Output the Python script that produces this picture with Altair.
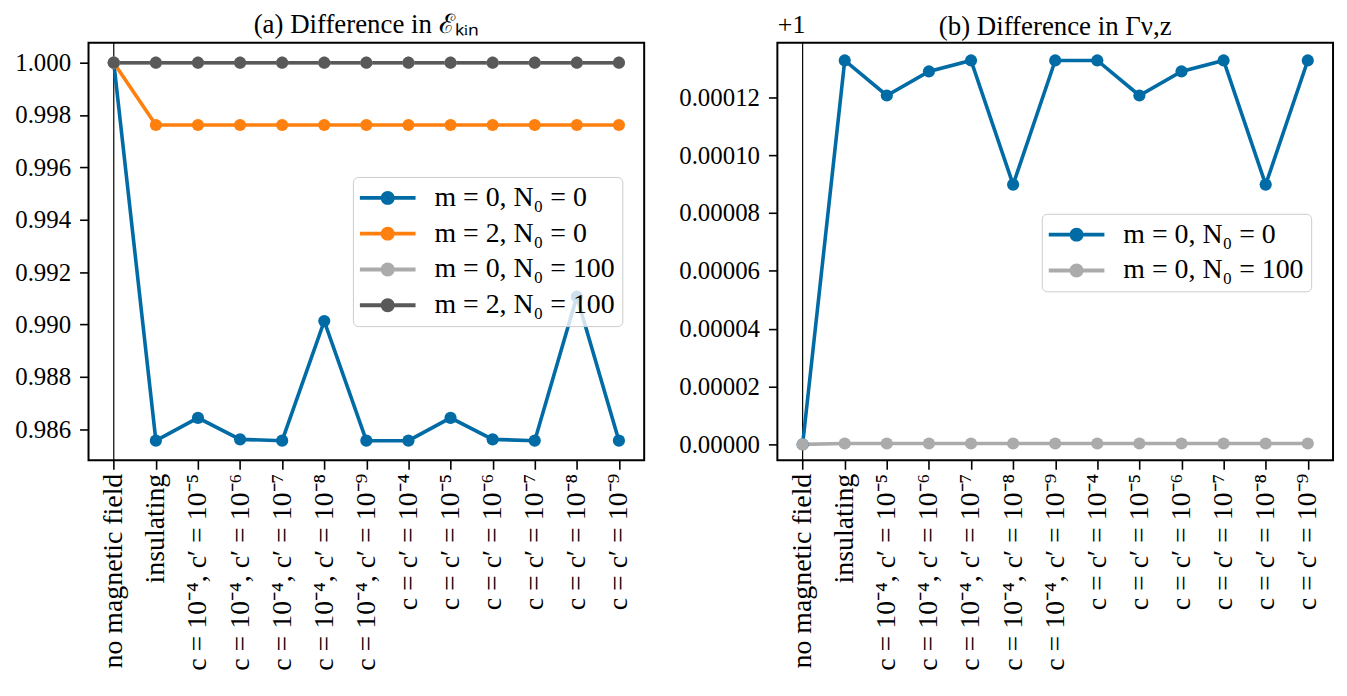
import altair as alt
import pandas as pd

categories = [
    "no magnetic field", "insulating",
    "c = 10⁻⁴, c′ = 10⁻⁵", "c = 10⁻⁴, c′ = 10⁻⁶", "c = 10⁻⁴, c′ = 10⁻⁷",
    "c = 10⁻⁴, c′ = 10⁻⁸", "c = 10⁻⁴, c′ = 10⁻⁹",
    "c = c′ = 10⁻⁴", "c = c′ = 10⁻⁵", "c = c′ = 10⁻⁶", "c = c′ = 10⁻⁷",
    "c = c′ = 10⁻⁸", "c = c′ = 10⁻⁹",
]

series_a = ["m = 0, N₀ = 0", "m = 2, N₀ = 0", "m = 0, N₀ = 100", "m = 2, N₀ = 100"]
colors_a = ["#006BA4", "#FF800E", "#ABABAB", "#595959"]

ekin_m0_n0 = [1.0, 0.98556, 0.98643, 0.98561, 0.98556, 0.99013, 0.98556,
              0.98556, 0.98643, 0.98561, 0.98556, 0.99106, 0.98556]
ekin_m2_n0 = [1.0] + [0.99762] * 12
ekin_m0_n100 = [1.0] * 13
ekin_m2_n100 = [1.0] * 13

series_b = ["m = 0, N₀ = 0", "m = 0, N₀ = 100"]
colors_b = ["#006BA4", "#ABABAB"]

gamma_m0_n0 = [0.0, 0.0001327, 0.0001206, 0.0001289, 0.0001327, 0.0000898, 0.0001327,
               0.0001327, 0.0001206, 0.0001289, 0.0001327, 0.0000898, 0.0001327]
gamma_m0_n100 = [0.0] + [0.0000003] * 12

FONT = "Liberation Serif"

rows_a = []
for name, vals in zip(series_a, [ekin_m0_n0, ekin_m2_n0, ekin_m0_n100, ekin_m2_n100]):
    for i, (c, v) in enumerate(zip(categories, vals)):
        rows_a.append({"case": c, "value": v, "series": name, "idx": i})
df_a = pd.DataFrame(rows_a)

rows_b = []
for name, vals in zip(series_b, [gamma_m0_n0, gamma_m0_n100]):
    for i, (c, v) in enumerate(zip(categories, vals)):
        rows_b.append({"case": c, "value": v, "series": name, "idx": i})
df_b = pd.DataFrame(rows_b)

# line with a dot, drawn to the right of the nominal symbol centre
legend_symbol = ("M-1,-0.14L3,-0.14L3,0.14L-1,0.14Z "
                 "M0.5,0A0.5,0.5 0 1,1 1.5,0A0.5,0.5 0 1,1 0.5,0Z")

xenc = alt.X("case:N", sort=categories,
             scale=alt.Scale(type="point", padding=0.6),
             axis=alt.Axis(title=None, labelAngle=270, labelFontSize=28, labelPadding=4,
                           labelLimit=500))


def panel(df, series, colors, domain, ticks, fmt, title, lx, ly, title_offset, offset_title=None):
    if offset_title:
        yaxis = alt.Axis(values=ticks, format=fmt, title=offset_title, titleAngle=0,
                         titleX=0, titleY=-5, titleAlign="left", titleBaseline="bottom",
                         labelPadding=9)
    else:
        yaxis = alt.Axis(values=ticks, format=fmt, title=None, labelPadding=9)
    yenc = alt.Y("value:Q", scale=alt.Scale(domain=domain, nice=False, zero=False),
                 axis=yaxis)
    cscale = alt.Scale(domain=series, range=colors)
    leg = alt.Legend(title=None, orient="none", legendX=lx, legendY=ly,
                     symbolType=legend_symbol, symbolSize=784,
                     symbolStrokeWidth=0, symbolOpacity=1,
                     labelOffset=47, rowPadding=8, labelLimit=500,
                     fillColor="rgba(255,255,255,0.8)", strokeColor="#cccccc",
                     padding=7)
    cenc = alt.Color("series:N", scale=cscale, sort=series, legend=leg)
    base = alt.Chart(df)
    lines = base.mark_line(strokeWidth=3.6).encode(
        x=xenc, y=yenc, color=cenc, order="idx:Q",
    )
    pts = base.mark_circle(size=150, opacity=1).encode(
        x=xenc, y=yenc, color=cenc,
    )
    vline = alt.Chart(pd.DataFrame({"case": [categories[0]]})).mark_rule(
        color="black", strokeWidth=1.2).encode(x=alt.X("case:N", sort=categories))
    return alt.layer(vline, lines, pts).properties(
        width=559, height=420,
        title=alt.TitleParams(title, offset=title_offset),
    )


left = panel(df_a, series_a, colors_a, [0.98481, 1.00076],
             [0.986, 0.988, 0.990, 0.992, 0.994, 0.996, 0.998, 1.000], ".3f",
             "(a) Difference in ℰₖᵢₙ", 266, 135, 3)
right = panel(df_b, series_b, colors_b, [-0.0000055, 0.0001388],
              [0.0, 0.00002, 0.00004, 0.00006, 0.00008, 0.00010, 0.00012], ".5f",
              "(b) Difference in Γν,z", 266, 172, -29, offset_title="+1")

chart = alt.hconcat(left, right, spacing=32).resolve_scale(
    color="independent"
).configure(font=FONT).configure_view(
    stroke="black", strokeWidth=2
).configure_axis(
    grid=False, domain=False,
    labelFont=FONT, labelFontSize=25, labelColor="black",
    tickColor="black", tickSize=9, tickWidth=1.6,
    titleFont=FONT, titleFontSize=26, titleFontWeight="normal", titleColor="black",
).configure_legend(
    cornerRadius=5, labelFont=FONT, labelFontSize=28, labelColor="black",
).configure_title(
    font=FONT, fontSize=27, fontWeight="normal", color="black",
).properties(
    padding={"left": 5, "top": 0, "right": 5, "bottom": 5})

chart.save("out.html", embed_options={"renderer": "svg", "actions": False})
